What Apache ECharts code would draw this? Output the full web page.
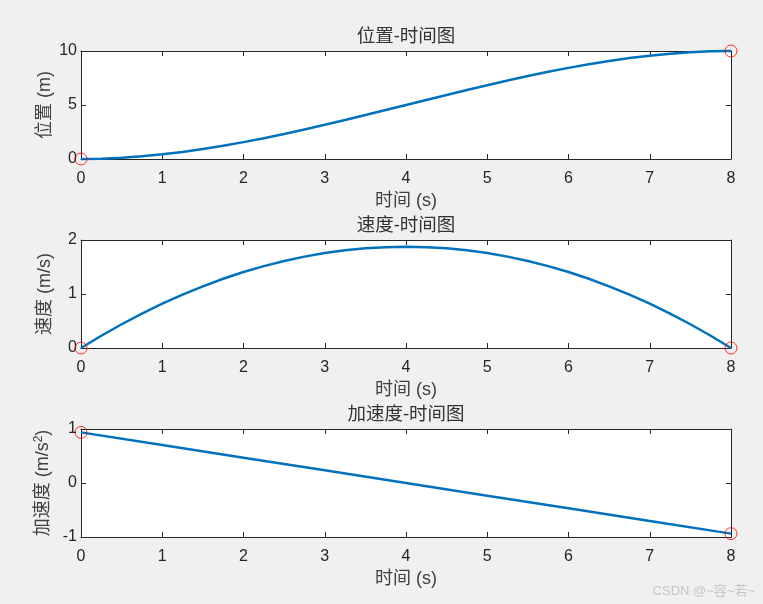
<!DOCTYPE html>
<html><head><meta charset="utf-8">
<script src="https://cdn.jsdelivr.net/npm/echarts@6/dist/echarts.min.js"></script>
<style>html,body{margin:0;padding:0;background:#f0f0f0;}#c{width:763px;height:604px;}</style>
</head><body><div id="c"></div>
<script>
var timeS = [0,0.25,0.5,0.75,1,1.25,1.5,1.75,2,2.25,2.5,2.75,3,3.25,3.5,3.75,4,4.25,4.5,4.75,5,5.25,5.5,5.75,6,6.25,6.5,6.75,7,7.25,7.5,7.75,8];
var position = [0,0.0287,0.1123,0.2472,0.4297,0.6561,0.9229,1.2262,1.5625,1.9281,2.3193,2.7325,3.1641,3.6102,4.0674,4.5319,5,5.4681,5.9326,6.3898,6.8359,7.2675,7.6807,8.0719,8.4375,8.7738,9.0771,9.3439,9.5703,9.7528,9.8877,9.9713,10];
var velocity = [0,0.2271,0.4395,0.6372,0.8203,0.9888,1.1426,1.2817,1.4063,1.5161,1.6113,1.6919,1.7578,1.8091,1.8457,1.8677,1.875,1.8677,1.8457,1.8091,1.7578,1.6919,1.6113,1.5161,1.4063,1.2817,1.1426,0.9888,0.8203,0.6372,0.4395,0.2271,0];
var accelTime = [0,1,2,3,4,5,6,7,8];
var acceleration = [0.9375,0.7031,0.4688,0.2344,0,-0.2344,-0.4688,-0.7031,-0.9375];
var titles = ['位置-时间图','速度-时间图','加速度-时间图'];
var yNames = ['位置 (m)','速度 (m/s)','{a|加速度 (m/s}{sup|2}{a|)}'];
var xName = '时间 (s)';
var yRanges = [[0,10,5],[0,2,1],[-1,1,1]];
var xRange = [0,8,1];

var FONT = '"Liberation Sans", Arial, "Noto Sans CJK SC", sans-serif';
var AX = '#262626';
var tops = [51, 240, 429];
var gridH = 108;

var chart = echarts.init(document.getElementById('c'));
var grids = [], xAxes = [], yAxes = [], series = [], titleOpts = [];
function zip(a, b){ return a.map(function(v,i){ return [v, b[i]]; }); }
var dataSets = [zip(timeS, position), zip(timeS, velocity), zip(accelTime, acceleration)];

for (var i = 0; i < 3; i++) {
  grids.push({left: 81, right: 32, top: tops[i], height: gridH, show: true, backgroundColor: '#ffffff', borderWidth: 0});
  titleOpts.push({text: titles[i], left: 406, top: tops[i] - 23, textAlign: 'center', padding: 0,
    textStyle: {fontFamily: FONT, fontSize: 18.5, fontWeight: 'normal', color: '#333333'}});
  var baseX = {type: 'value', gridIndex: i, min: xRange[0], max: xRange[1], interval: xRange[2],
    axisLine: {show: true, onZero: false, lineStyle: {color: AX, width: 1}},
    axisTick: {show: true, inside: true, length: 5, lineStyle: {color: AX}},
    splitLine: {show: false}};
  xAxes.push(Object.assign({}, baseX, {position: 'bottom',
    name: xName, nameLocation: 'middle', nameGap: 33, nameMoveOverlap: false,
    nameTextStyle: {fontFamily: FONT, fontSize: 18, color: '#404040'},
    axisLabel: {show: true, fontFamily: FONT, fontSize: 16, color: AX, margin: 12}}));
  xAxes.push(Object.assign({}, baseX, {position: 'top', axisLabel: {show: false}}));
  var r = yRanges[i];
  var baseY = {type: 'value', gridIndex: i, min: r[0], max: r[1], interval: r[2],
    axisLine: {show: true, onZero: false, lineStyle: {color: AX, width: 1}},
    axisTick: {show: true, inside: true, length: 5, lineStyle: {color: AX}},
    splitLine: {show: false}};
  yAxes.push(Object.assign({}, baseY, {position: 'left',
    name: yNames[i], nameLocation: 'middle', nameGap: 27, nameMoveOverlap: false,
    nameTextStyle: {fontFamily: FONT, fontSize: 18, color: '#404040',
      rich: {a: {fontFamily: FONT, fontSize: 18, color: '#404040'},
             sup: {fontFamily: FONT, fontSize: 12, color: '#404040', verticalAlign: 'top', padding: [0,0,9,0]}}},
    axisLabel: {show: true, fontFamily: FONT, fontSize: 16, color: AX, margin: 4}}));
  yAxes.push(Object.assign({}, baseY, {position: 'right', axisLabel: {show: false}}));
  var d = dataSets[i];
  series.push({type: 'line', xAxisIndex: 2*i, yAxisIndex: 2*i, data: d, showSymbol: false,
    symbol: 'none', clip: false, lineStyle: {color: '#0072BD', width: 2.5}, animation: false});
  series.push({type: 'scatter', xAxisIndex: 2*i, yAxisIndex: 2*i, data: [d[0], d[d.length-1]],
    symbol: 'circle', symbolSize: 12, clip: false, z: 5,
    itemStyle: {color: 'rgba(0,0,0,0)', borderColor: '#ff0000', borderWidth: 1}, animation: false});
}

chart.setOption({
  backgroundColor: '#f0f0f0',
  animation: false,
  title: titleOpts,
  grid: grids,
  xAxis: xAxes,
  yAxis: yAxes,
  series: series,
  graphic: [{type: 'text', right: 8, bottom: 6,
    style: {text: 'CSDN @~容~若~', fontFamily: FONT, fontSize: 13, fill: '#c4c4c4'}}]
});
</script></body></html>
